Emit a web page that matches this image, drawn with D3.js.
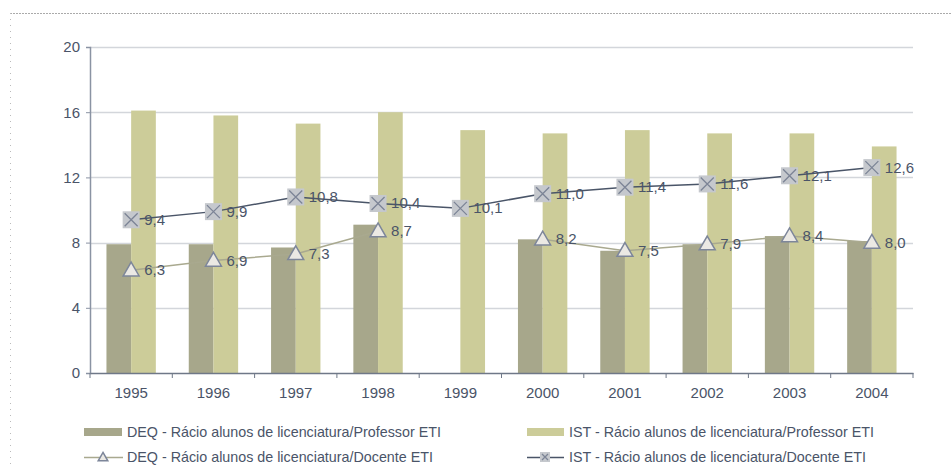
<!DOCTYPE html>
<html>
<head>
<meta charset="utf-8">
<script src="https://cdn.jsdelivr.net/npm/d3@7/dist/d3.min.js"></script>
<style>
  body { margin: 0; background: #fff; }
  svg text { font-family: "Liberation Sans", Arial, sans-serif; }
</style>
</head>
<body>
<svg id="chart" width="951" height="468"></svg>
<script>
// years on the x axis
const years = ["1995", "1996", "1997", "1998", "1999", "2000", "2001", "2002", "2003", "2004"];

// bar series (null = no bar)
const deqProfessor = [7.9, 7.9, 7.7, 9.1, null, 8.2, 7.5, 7.9, 8.4, 8.1];
const istProfessor = [16.1, 15.8, 15.3, 16.0, 14.9, 14.7, 14.9, 14.7, 14.7, 13.9];

// line series
const deqDocente = [6.3, 6.9, 7.3, 8.7, null, 8.2, 7.5, 7.9, 8.4, 8.0];
const istDocente = [9.4, 9.9, 10.8, 10.4, 10.1, 11.0, 11.4, 11.6, 12.1, 12.6];

const yTicks = [0, 4, 8, 12, 16, 20];

const legendLabels = [
    "DEQ - Rácio alunos de licenciatura/Professor ETI",
    "IST - Rácio alunos de licenciatura/Professor ETI",
    "DEQ - Rácio alunos de licenciatura/Docente ETI",
    "IST - Rácio alunos de licenciatura/Docente ETI"
];

const colDeqBar = "#a7a78b";
const colIstBar = "#cccc99";
const colDeqLine = "#a9a98f";
const colIstLine = "#4a5568";
const textCol = "#4a5468";
const axisCol = "#8a93a3";

const svg = d3.select("#chart");

// dotted frame (top + left)
svg.append("line").attr("x1", 10).attr("x2", 951).attr("y1", 13.5).attr("y2", 13.5)
    .attr("stroke", "#aaa").attr("stroke-dasharray", "2,1");
svg.append("line").attr("x1", 10.5).attr("x2", 10.5).attr("y1", 13).attr("y2", 468)
    .attr("stroke", "#bbb").attr("stroke-dasharray", "1,5");

const plotL = 90, plotR = 913, plotT = 47, plotB = 373;

const x = d3.scaleBand().domain(years).range([plotL, plotR]);
const y = d3.scaleLinear().domain([0, 20]).range([plotB, plotT]);
const barW = x.bandwidth() * 0.3;
const cx = d => x(d) + x.bandwidth() / 2;

// grid
svg.append("g").selectAll("line").data(yTicks.filter(t => t > 0)).join("line")
    .attr("x1", plotL).attr("x2", plotR)
    .attr("y1", d => Math.round(y(d)) + 0.5).attr("y2", d => Math.round(y(d)) + 0.5)
    .attr("stroke", "#d3d6db").attr("stroke-width", 1.5);

// bars
svg.append("g").selectAll("rect").data(years.map((yr, i) => ({ yr, v: deqProfessor[i] })).filter(d => d.v != null)).join("rect")
    .attr("x", d => cx(d.yr) - barW).attr("width", barW)
    .attr("y", d => y(d.v)).attr("height", d => y(0) - y(d.v))
    .attr("fill", colDeqBar);
svg.append("g").selectAll("rect").data(years.map((yr, i) => ({ yr, v: istProfessor[i] }))).join("rect")
    .attr("x", d => cx(d.yr)).attr("width", barW)
    .attr("y", d => y(d.v)).attr("height", d => y(0) - y(d.v))
    .attr("fill", colIstBar);

// y axis
const yAxis = svg.append("g").attr("transform", `translate(${plotL},0)`)
    .call(d3.axisLeft(y).tickValues(yTicks).tickSize(4).tickPadding(6));
yAxis.select(".domain").attr("stroke", axisCol).attr("stroke-width", 1.5);
yAxis.selectAll("line").attr("stroke", axisCol);
yAxis.selectAll("text").attr("fill", textCol).attr("font-size", 15)
    .style("font-family", "'Liberation Sans', Arial, sans-serif");

// x axis
const xAxis = svg.append("g").attr("transform", `translate(0,${plotB})`)
    .call(d3.axisBottom(x).tickSize(0).tickPadding(14));
xAxis.select(".domain").attr("stroke", "#6f7888").attr("stroke-width", 1.5);
xAxis.selectAll("text").attr("fill", textCol).attr("font-size", 15)
    .style("font-family", "'Liberation Sans', Arial, sans-serif");
svg.append("g").selectAll("line").data(d3.range(years.length + 1)).join("line")
    .attr("x1", i => plotL + i * x.step()).attr("x2", i => plotL + i * x.step())
    .attr("y1", plotB).attr("y2", plotB + 5)
    .attr("stroke", "#6f7888");

// lines
const lineGen = d3.line().defined(d => d.v != null).x(d => cx(d.yr)).y(d => y(d.v));
const deqPts = years.map((yr, i) => ({ yr, v: deqDocente[i] }));
const istPts = years.map((yr, i) => ({ yr, v: istDocente[i] }));

svg.append("path").datum(deqPts).attr("d", lineGen)
    .attr("fill", "none").attr("stroke", colDeqLine).attr("stroke-width", 1.5);
svg.append("path").datum(istPts).attr("d", lineGen)
    .attr("fill", "none").attr("stroke", colIstLine).attr("stroke-width", 1.5);

function xMarker(g, s) {
    g.append("rect").attr("x", -s / 2).attr("y", -s / 2).attr("width", s).attr("height", s)
        .attr("fill", "#c5c8cd");
    const k = s / 2 - 2;
    g.append("path").attr("d", `M${-k},${-k}L${k},${k}M${k},${-k}L${-k},${k}`)
        .attr("stroke", "#7c8496").attr("stroke-width", 1.3);
}
function triMarker(g, s) {
    g.append("path").attr("d", d3.symbol(d3.symbolTriangle, s)())
        .attr("transform", "translate(0,1)")
        .attr("fill", "#ebe9e4").attr("stroke", "#7d869a").attr("stroke-width", 1.5);
}

// markers + labels
const fmt = v => d3.format(".1f")(v).replace(".", ",");

deqPts.filter(d => d.v != null).forEach(d => {
    const g = svg.append("g").attr("transform", `translate(${cx(d.yr)},${y(d.v)})`);
    triMarker(g, 110);
    g.append("text").attr("x", 13).attr("y", 5).attr("fill", textCol).attr("font-size", 15).text(fmt(d.v));
});
istPts.forEach(d => {
    const g = svg.append("g").attr("transform", `translate(${cx(d.yr)},${y(d.v)})`);
    xMarker(g, 17);
    g.append("text").attr("x", 13).attr("y", 5).attr("fill", textCol).attr("font-size", 15).text(fmt(d.v));
});

// legend
const lg = svg.append("g");
lg.append("rect").attr("x", 84).attr("y", 428).attr("width", 38).attr("height", 8).attr("fill", colDeqBar);
lg.append("text").attr("x", 127).attr("y", 437).attr("fill", textCol).attr("font-size", 14.3).text(legendLabels[0]);
lg.append("rect").attr("x", 527).attr("y", 428).attr("width", 37).attr("height", 8).attr("fill", colIstBar);
lg.append("text").attr("x", 569).attr("y", 437).attr("fill", textCol).attr("font-size", 14.3).text(legendLabels[1]);

lg.append("line").attr("x1", 84).attr("x2", 123).attr("y1", 457.5).attr("y2", 457.5)
    .attr("stroke", colDeqLine).attr("stroke-width", 1.5);
triMarker(lg.append("g").attr("transform", "translate(103,457)"), 40);
lg.append("text").attr("x", 127).attr("y", 462).attr("fill", textCol).attr("font-size", 14.3).text(legendLabels[2]);

lg.append("line").attr("x1", 527).attr("x2", 564).attr("y1", 457.5).attr("y2", 457.5)
    .attr("stroke", colIstLine).attr("stroke-width", 1.5);
xMarker(lg.append("g").attr("transform", "translate(545,457)"), 10);
lg.append("text").attr("x", 569).attr("y", 462).attr("fill", textCol).attr("font-size", 14.3).text(legendLabels[3]);
</script>
</body>
</html>
